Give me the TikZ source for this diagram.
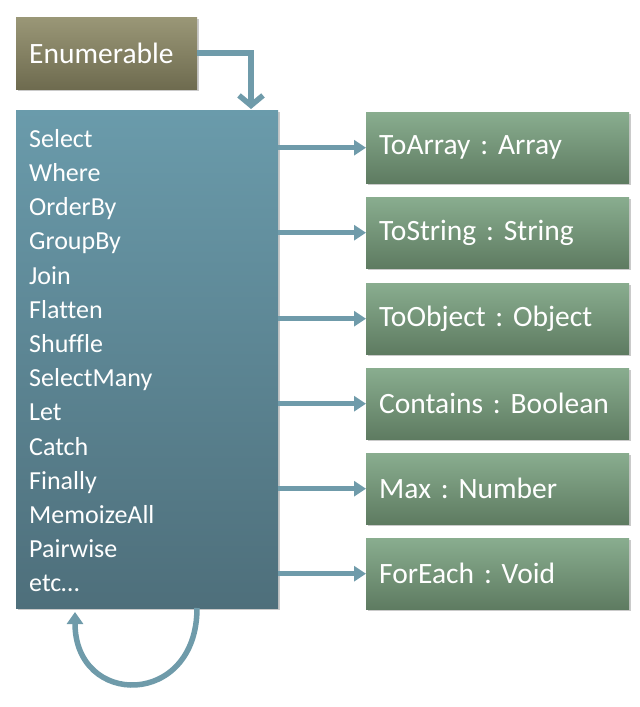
\documentclass[tikz,border=0pt]{standalone}
\usepackage{fontspec}
\setmainfont[Ligatures=NoCommon]{Carlito}
\usepackage{tikz}
\usetikzlibrary{positioning,arrows.meta,shadows}
\frenchspacing

\definecolor{enumtop}{HTML}{9A9777}
\definecolor{enumbot}{HTML}{6E6B4F}
\definecolor{opstop}{HTML}{6A9BAB}
\definecolor{opsbot}{HTML}{4E6F7B}
\definecolor{restop}{HTML}{89AD8F}
\definecolor{resbot}{HTML}{5E7B61}
\definecolor{arrowc}{HTML}{6F9BAA}

\begin{document}
\begin{tikzpicture}[x=1pt, y=-1pt,
		shadowed/.style={drop shadow={shadow xshift=2pt, shadow yshift=-2pt, opacity=.35, fill=black!60}},
		result/.style={rectangle, shadowed, top color=restop, bottom color=resbot, anchor=north west, minimum width=263pt, minimum height=71pt, text width=237pt, inner xsep=13pt, align=left, text=white, font=\fontsize{29.5}{34}\selectfont},
		link/.style={draw=arrowc, line width=4.5pt, -{Triangle[length=12pt,width=15pt]}}]
		\useasboundingbox (0,0) rectangle (640,707);
		
		\node [rectangle, shadowed, top color=enumtop, bottom color=enumbot, anchor=north west, minimum width=181pt, minimum height=72pt, text width=155pt, inner xsep=13pt, align=left, text=white, font=\fontsize{29.5}{34}\selectfont] (e) at (16,17) {Enumerable};
		\node [rectangle, shadowed, top color=opstop, bottom color=opsbot, anchor=north west, minimum width=262pt, minimum height=498pt] (m) at (16,110) {};
		\node [anchor=north west, align=left, inner sep=0pt, text=white, font=\fontsize{26}{34.2}\selectfont] (lst) at (29,129) {Select\\Where\\OrderBy\\GroupBy\\Join\\Flatten\\Shuffle\\SelectMany\\Let\\Catch\\Finally\\MemoizeAll\\Pairwise\\etc\dots};
		
		\node [result] (o1) at (366,112) {ToArray : Array};
		\node [result] (o2) at (366,197) {ToString : String};
		\node [result] (o3) at (366,283) {ToObject : Object};
		\node [result] (o4) at (366,368) {Contains : Boolean};
		\node [result] (o5) at (366,453) {Max : Number};
		\node [result] (o6) at (366,538) {ForEach : Void};
		
		\draw[link] (o1.west -| m.east)--(o1.west);
		\draw[link] (o2.west -| m.east)--(o2.west);
		\draw[link] (o3.west -| m.east)--(o3.west);
		\draw[link] (o4.west -| m.east)--(o4.west);
		\draw[link] (o5.west -| m.east)--(o5.west);
		\draw[link] (o6.west -| m.east)--(o6.west);
		
		\coordinate (mt) at (251,109);
		\draw[draw=arrowc, line width=5.5pt, -{Straight Barb[length=10pt,width=24pt,line width=5.5pt]}] (e.east) -| (mt);
		
		\coordinate (ls) at (197,608);
		\coordinate (le) at (75,612);
		\draw[draw=arrowc, line width=5.5pt, -{Triangle[length=12pt,width=16pt]}] (ls) .. controls (197,708) and (75,708) .. (le);
	\end{tikzpicture}
\end{document}
